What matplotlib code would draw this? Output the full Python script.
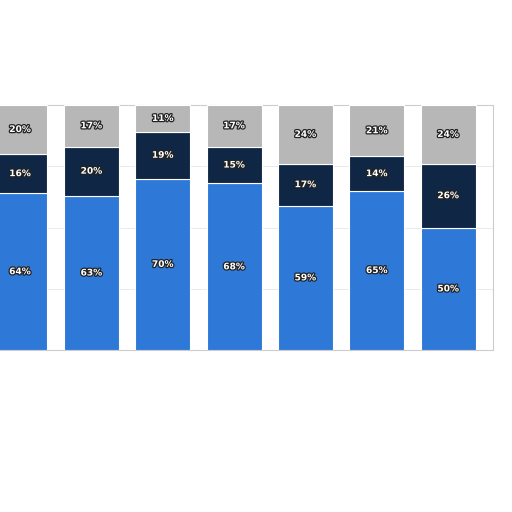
import matplotlib
matplotlib.use("Agg")
import matplotlib.pyplot as plt
import matplotlib.patheffects as pe
import numpy as np

blue_vals = [64, 63, 70, 68, 59, 65, 50]
navy_vals = [16, 20, 19, 15, 17, 14, 26]
gray_vals = [20, 17, 11, 17, 24, 21, 24]

fig = plt.figure(figsize=(5.12, 5.12), dpi=100)
ax = fig.add_axes([0.0, 0.316, 0.963, 0.479])
x = np.arange(len(blue_vals))
w = 0.77

b1 = ax.bar(x, blue_vals, w, color='#2e78d8', edgecolor='white', linewidth=0.8, zorder=3)
b2 = ax.bar(x, navy_vals, w, bottom=blue_vals, color='#0f2744', edgecolor='white', linewidth=0.8, zorder=3)
bottom2 = np.array(blue_vals) + np.array(navy_vals)
b3 = ax.bar(x, gray_vals, w, bottom=bottom2, color='#b7b7b7', edgecolor='white', linewidth=0.8, zorder=3)

stroke = [pe.withStroke(linewidth=1.8, foreground='#222222')]
for bars, vals, bots in [(b1, blue_vals, np.zeros(7)), (b2, navy_vals, blue_vals), (b3, gray_vals, bottom2)]:
    for r, v, b in zip(bars, vals, bots):
        ax.text(r.get_x() + r.get_width() / 2, b + v / 2, f"{v}%", ha='center', va='center',
                fontsize=6.5, fontweight='bold', color='white', path_effects=stroke, zorder=4)

ax.set_xlim(-0.28, 6.63)
ax.set_ylim(0, 100)
ax.set_yticks([25, 50, 75])
ax.yaxis.grid(True, color='#e6e6e6', linewidth=0.6, zorder=0)
ax.set_xticks([])
ax.tick_params(left=False, labelleft=False)
for s in ax.spines.values():
    s.set_color('#cccccc')
    s.set_linewidth(0.8)
ax.spines['left'].set_visible(False)

fig.savefig('out.png', dpi=100)
